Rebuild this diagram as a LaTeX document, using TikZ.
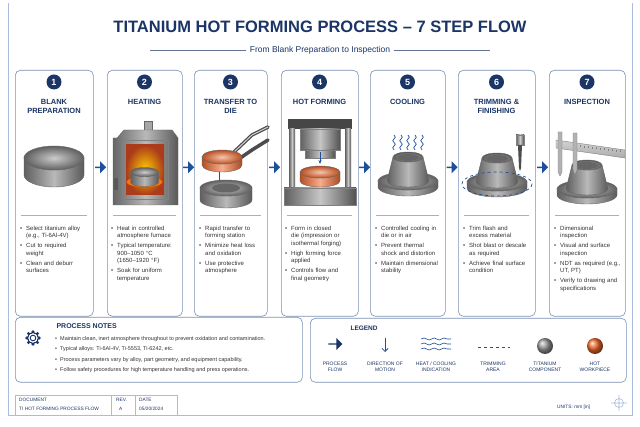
\documentclass[tikz,border=0pt]{standalone}
\usepackage{fontspec}
\setmainfont{Liberation Sans}
\usetikzlibrary{arrows.meta,decorations.pathmorphing,shapes.arrows}
\definecolor{navy}{HTML}{1B3566}
\definecolor{flowblue}{HTML}{1F4E9A}
\definecolor{boxline}{HTML}{7A8FB5}
\definecolor{frameline}{HTML}{A9BCDD}
\definecolor{hot}{HTML}{F26A2E}
\newcommand\mycyl[6]{%
 \shade[left color=#6!75!black, right color=#6!70!black, middle color=#6!55, draw=black!60, line width=0.4pt]
 (#1-#3,#2) -- (#1-#3,#2+#5) arc[start angle=180,end angle=0,x radius=#3,y radius=#4] -- (#1+#3,#2) arc[start angle=0,end angle=180,x radius=#3,y radius=#4] -- cycle;
 \shade[inner color=#6!40, outer color=#6!75!black, draw=black!60, line width=0.4pt] (#1,#2) ellipse[x radius=#3,y radius=#4];}
\newcommand\myflange[2]{%
 \mycyl{#1}{#2}{30}{9}{6}{gray}
 \shade[left color=gray!75!black, right color=gray!70!black, middle color=gray!55, draw=black!60, line width=0.4pt]
 (#1-21,#2) arc[start angle=180,end angle=0,x radius=21,y radius=6] -- (#1+15,#2-24) arc[start angle=0,end angle=180,x radius=15,y radius=5] -- cycle;
 \shade[inner color=gray!45, outer color=gray!70!black, draw=black!60, line width=0.4pt] (#1,#2-24) ellipse[x radius=15,y radius=5];
 \fill[black!60] (#1,#2-23.5) ellipse[x radius=11,y radius=3.5];}
\newcommand\bul[1]{\par\hyphenpenalty=10000\exhyphenpenalty=10000\hangindent=6pt\hangafter=1\noindent\makebox[6pt][l]{\textbullet}#1\par\vspace{2.6pt}}
\tikzset{
 stepbox/.style={draw=boxline, line width=0.6pt, rounded corners=5pt, fill=white},
 numc/.style={circle, fill=navy, text=white, font=\bfseries\fontsize{9}{9}\selectfont, inner sep=0pt, minimum size=15pt},
 steptitle/.style={text=navy, font=\bfseries\fontsize{7.5}{9}\selectfont, align=center},
 bullets/.style={text=black!80, font=\fontsize{6}{7.4}\selectfont, align=left, text width=64pt, anchor=north west, inner sep=0pt},
 flow/.style={single arrow, fill=flowblue, minimum height=11pt, minimum width=12pt, single arrow head extend=1.5pt, inner sep=0pt},
 leg/.style={text=navy, font=\fontsize{5}{6}\selectfont, align=center},
 motion/.style={-{Stealth[length=4pt]}, flowblue, line width=1pt},
}
\begin{document}
\begin{tikzpicture}[x=1pt,y=-1pt]
\useasboundingbox (0,0) rectangle (640,427);
\fill[white] (0,0) rectangle (640,427);
\draw[frameline, line width=0.8pt] (8,3) -- (8,415) -- (632,415) -- (632,3);
% title
\node (title) at (320,27) {\bfseries\fontsize{16.5}{17}\selectfont\color{navy}TITANIUM HOT FORMING PROCESS – 7 STEP FLOW};
\node (sub) at (320,50) {\fontsize{8.5}{9}\selectfont\color{navy}From Blank Preparation to Inspection};
\draw[navy!70, line width=0.6pt] (150,50) -- (sub.west) (sub.east) -- (490,50);
% step boxes
\foreach \n/\xa/\xb in {1/15/93,2/107/182,3/194/267,4/281/358,5/370/445,6/458/535,7/549/625}{
 \node[stepbox, minimum width={\xb-\xa}, minimum height=246, anchor=north west] (box\n) at (\xa,70) {};
 \node[numc] (num\n) at ({(\xa+\xb)/2},82) {\n};
 \draw[boxline!70, line width=0.5pt] ({\xa+6},215) -- ({\xb-6},215);
}
\foreach \a/\b in {1/2,2/3,3/4,4/5,5/6,6/7}{
 \path (box\a.east) -- (box\b.west) node[midway, flow, yshift=26pt] (fl\a) {};
}
\node[steptitle, anchor=north] (t1) at (54,96) {BLANK\\PREPARATION};
\node[steptitle, anchor=north] (t2) at (144.5,96) {HEATING};
\node[steptitle, anchor=north] (t3) at (230.5,96) {TRANSFER TO\\DIE};
\node[steptitle, anchor=north] (t4) at (319.5,96) {HOT FORMING};
\node[steptitle, anchor=north] (t5) at (407.5,96) {COOLING};
\node[steptitle, anchor=north] (t6) at (496.5,96) {TRIMMING \&\\FINISHING};
\node[steptitle, anchor=north] (t7) at (587,96) {INSPECTION};
% bullets
\node[bullets] (b1) at (20,223) {\bul{Select titanium alloy (e.g., Ti-6Al-4V)}\bul{Cut to required weight}\bul{Clean and deburr surfaces}};
\node[bullets] (b2) at (111,223) {\bul{Heat in controlled atmosphere furnace}\bul{Typical temperature: 900–1050 °C (1650–1920 °F)}\bul{Soak for uniform temperature}};
\node[bullets] (b3) at (199,223) {\bul{Rapid transfer to forming station}\bul{Minimize heat loss and oxidation}\bul{Use protective atmosphere}};
\node[bullets] (b4) at (285,223) {\bul{Form in closed die (impression or isothermal forging)}\bul{High forming force applied}\bul{Controls flow and final geometry}};
\node[bullets] (b5) at (375,223) {\bul{Controlled cooling in die or in air}\bul{Prevent thermal shock and distortion}\bul{Maintain dimensional stability}};
\node[bullets] (b6) at (463,223) {\bul{Trim flash and excess material}\bul{Shot blast or descale as required}\bul{Achieve final surface condition}};
\node[bullets, text width=67pt] (b7) at (554,223) {\bul{Dimensional inspection}\bul{Visual and surface inspection}\bul{NDT as required (e.g., UT, PT)}\bul{Verify to drawing and specifications}};
% 1 blank
\mycyl{54}{158}{30}{12}{17}{gray}
% 2 furnace
\fill[gray!70, draw=black!60] (144,121) rectangle (152,131);
\shade[left color=gray!80!black, right color=gray!70!black, middle color=gray!55, draw=black!60] (117,138) -- (124,130) -- (172,130) -- (178,138) -- (178,205) -- (113,205) -- (113,138) -- cycle;
\draw[black!50] (122,140) rectangle (168,199);
\shade[inner color=yellow!60!orange, outer color=hot!80!red!70!black] (126,145) rectangle (164,195);
\fill[orange!90!red] (144.5,182) ellipse[x radius=18,y radius=5];
\mycyl{144.5}{172}{14}{4.5}{10}{gray}
\fill[gray!70!black] (114,178) rectangle (118,190);
% 3 transfer
\draw[gray!60!black, line width=3.5pt, line cap=round] (233,153) -- (252,135) -- (268,127);
\draw[gray!60!black, line width=3.5pt, line cap=round] (233,163) -- (252,150) -- (268,140);
\draw[gray!35, line width=1pt, line cap=round] (233,153) -- (252,135) -- (268,127);
\mycyl{222}{157}{20}{7}{8}{hot}
\draw[motion] (219,172) -- (219,184);
\mycyl{226}{188}{26}{8}{12}{gray}
\fill[black!60] (226,188) ellipse[x radius=14,y radius=4.5];
% 4 press
\fill[gray!55!black] (288,119) rectangle (352,129);
\foreach \cx in {292,348}{\shade[left color=gray!75!black,right color=gray!65!black,middle color=gray!45] (\cx-3,129) rectangle (\cx+3,198);}
\shade[left color=gray!75!black,right color=gray!65!black,middle color=gray!45, draw=black!50] (300,129) rectangle (340,150);
\shade[left color=gray!75!black,right color=gray!65!black,middle color=gray!45, draw=black!50] (305,150) rectangle (335,158);
\draw[motion] (320,152) -- (320,164);
\mycyl{320}{172}{20}{6}{9}{hot}
\shade[left color=gray!75!black,right color=gray!65!black,middle color=gray!45, draw=black!50] (284,188) rectangle (356,205);
% 5 cooling
\foreach \wx in {394,401,408,415,422}{
 \draw[flowblue, line width=0.7pt, decorate, decoration={snake, amplitude=1.3pt, segment length=7pt}] (\wx,135) -- (\wx,150);}
\myflange{408}{181}
% 6 trimming
\myflange{497}{182}
\draw[flowblue, dashed, line width=0.7pt] (497,184) ellipse[x radius=35,y radius=12];
\shade[left color=gray!70!black,right color=gray!60!black,middle color=gray!40,draw=black!50] (516,135) rectangle (524,145);
\fill[gray!60!black] (518,145) -- (522,145) -- (521,168) -- (520,171) -- (519,168) -- cycle;
% 7 inspection
\myflange{587}{189}
\shade[top color=gray!35, bottom color=gray!65, draw=black!50] (556,140) -- (625,150) -- (625,158) -- (556,148) -- cycle;
\fill[gray!60, draw=black!50] (558,132) -- (562,132) -- (562,172) -- (560,176) -- (558,172) -- cycle;
\fill[gray!60, draw=black!50] (573,133) -- (577,133) -- (577,170) -- (575,175) -- (573,170) -- cycle;
\foreach \k in {0,...,10}{\draw[black!50,line width=0.3pt] (580+\k*4,{145+\k*0.55}) -- ++(0,2);}
% notes
\node[stepbox, minimum width=287, minimum height=65, anchor=north west] (notes) at (15,317) {};
\node[draw=navy, line width=0.9pt, circle, minimum size=11pt, inner sep=0pt] (gear) at (33,338) {};
\foreach \ang in {0,45,...,315}{\fill[navy] (gear.center) ++(\ang:6.3pt) circle (1.6pt);}
\fill[white] (gear.center) circle (4.5pt);
\draw[navy, line width=0.9pt] (gear.center) circle (5.5pt) (gear.center) circle (2.8pt);
\node[anchor=west, text=navy, font=\bfseries\fontsize{7}{8}\selectfont] (pn) at (53,326) {PROCESS NOTES};
\node[anchor=north west, inner sep=0pt, text=black!80, font=\fontsize{5.5}{10.5}\selectfont, align=left] (pnt) at (55,336) {%
\textbullet\ \ Maintain clean, inert atmosphere throughout to prevent oxidation and contamination.\\
\textbullet\ \ Typical alloys: Ti-6Al-4V, Ti-5553, Ti-6242, etc.\\
\textbullet\ \ Process parameters vary by alloy, part geometry, and equipment capability.\\
\textbullet\ \ Follow safety procedures for high temperature handling and press operations.};
% legend
\node[stepbox, minimum width=316, minimum height=64, anchor=north west] (legend) at (310,318) {};
\node[anchor=west, text=navy, font=\bfseries\fontsize{6.5}{7}\selectfont] (lg) at (347,328) {LEGEND};
\node[flow, minimum height=14pt, minimum width=12pt, fill=navy] (l1) at (335,344) {};
\coordinate (l2a) at (385,338); \coordinate (l2b) at (385,352);
\draw[-{Straight Barb[length=3pt]}, flowblue, line width=0.8pt] (l2a) -- (l2b);
\foreach \yy in {339,344,349}{\draw[flowblue, line width=0.6pt, decorate, decoration={snake, amplitude=1pt, segment length=10pt}] (421,\yy) -- (451,\yy);}
\coordinate (l4a) at (478,347); \coordinate (l4b) at (510,347);
\draw[flowblue, dashed, line width=0.8pt] (l4a) -- (l4b);
\shade[ball color=gray!80] (545,346) circle (8pt);
\shade[ball color=hot] (595,346) circle (8pt);
\node[leg] at (335,367) {PROCESS\\FLOW};
\node[leg] at (385,367) {DIRECTION OF\\MOTION};
\node[leg] at (436,367) {HEAT / COOLING\\INDICATION};
\node[leg] at (493,367) {TRIMMING\\AREA};
\node[leg] at (545,367) {TITANIUM\\COMPONENT};
\node[leg] at (595,367) {HOT\\WORKPIECE};
% title block
\draw[frameline, line width=0.6pt] (15,395) rectangle (177,415) (111,395) -- (111,415) (135,395) -- (135,415);
\node[anchor=west, text=navy, font=\fontsize{4.8}{5}\selectfont, inner sep=0pt] at (19,400) {DOCUMENT};
\node[anchor=west, text=navy, font=\fontsize{4.8}{5}\selectfont, inner sep=0pt] at (19,409) {TI HOT FORMING PROCESS FLOW};
\node[anchor=west, text=navy, font=\fontsize{4.8}{5}\selectfont, inner sep=0pt] at (116,400) {REV.};
\node[anchor=west, text=navy, font=\fontsize{4.8}{5}\selectfont, inner sep=0pt] at (119,409) {A};
\node[anchor=west, text=navy, font=\fontsize{4.8}{5}\selectfont, inner sep=0pt] at (139,400) {DATE};
\node[anchor=west, text=navy, font=\fontsize{4.8}{5}\selectfont, inner sep=0pt] at (139,409) {05/20/2024};
\node[anchor=west, text=navy, font=\fontsize{4.8}{5}\selectfont, inner sep=0pt] at (557,407) {UNITS: mm [in]};
\draw[frameline, line width=0.6pt] (619,403) circle (4.5pt) (611,403) -- (627,403) (619,395) -- (619,411);
\end{tikzpicture}
\end{document}
